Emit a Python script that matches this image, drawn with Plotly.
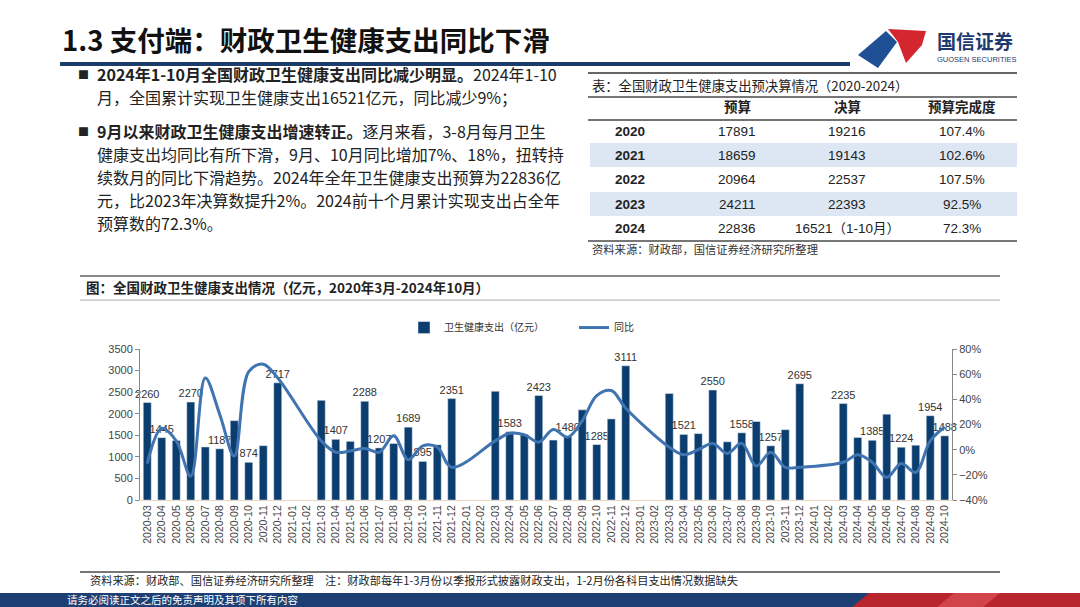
import plotly.graph_objects as go

W, H = 1080, 607
def X(p): return p / W
def Y(p): return 1 - (p * 1.02 - 5) / H

months = [
    "2020-03","2020-04","2020-05","2020-06","2020-07","2020-08","2020-09","2020-10","2020-11","2020-12",
    "2021-01","2021-02","2021-03","2021-04","2021-05","2021-06","2021-07","2021-08","2021-09","2021-10","2021-11","2021-12",
    "2022-01","2022-02","2022-03","2022-04","2022-05","2022-06","2022-07","2022-08","2022-09","2022-10","2022-11","2022-12",
    "2023-01","2023-02","2023-03","2023-04","2023-05","2023-06","2023-07","2023-08","2023-09","2023-10","2023-11","2023-12",
    "2024-01","2024-02","2024-03","2024-04","2024-05","2024-06","2024-07","2024-08","2024-09","2024-10",
]
spend = [
    2260, 1445, 1380, 2270, 1230, 1187, 1840, 874, 1260, 2717,
    None, None, 2310, 1407, 1360, 2288, 1207, 1310, 1689, 895, 1280, 2351,
    None, None, 2520, 1583, 1520, 2423, 1390, 1480, 2090, 1285, 1880, 3111,
    None, None, 2470, 1521, 1540, 2550, 1350, 1558, 1820, 1257, 1630, 2695,
    None, None, 2235, 1450, 1385, 1990, 1224, 1270, 1954, 1488,
]
yoy = [
    -11, 17, 7, -21, 57, 28, -5, 62, 68, 57,
    None, None, 7, -2, -1, 1, -2, 11, -8, 3, 2, -14,
    None, None, 7, 13, 12, 6, 16, 10, 23, 43, 47, 33,
    None, None, 2, -4, 0, 5, -3, 5, -13, -2, -14, -14,
    None, None, -10, -4, -10, -22, -11, -18, 7, 18,
]
labeled = ["2020-03","2020-04","2020-06","2020-08","2020-10","2020-12",
           "2021-04","2021-06","2021-07","2021-09","2021-10","2021-12",
           "2022-04","2022-06","2022-08","2022-10","2022-12",
           "2023-04","2023-06","2023-08","2023-10","2023-12",
           "2024-03","2024-05","2024-07","2024-09","2024-10"]

tbl_years = ["2020", "2021", "2022", "2023", "2024"]
tbl_budget = ["17891", "18659", "20964", "24211", "22836"]
tbl_final = ["19216", "19143", "22537", "22393", "16521（1-10月）"]
tbl_rate = ["107.4%", "102.6%", "107.5%", "92.5%", "72.3%"]
tbl_header = ["预算", "决算", "预算完成度"]

bullet_lines = [
    "<b>2024年1-10月全国财政卫生健康支出同比减少明显。</b>2024年1-10",
    "月，全国累计实现卫生健康支出16521亿元，同比减少9%；",
    "<b>9月以来财政卫生健康支出增速转正。</b>逐月来看，3-8月每月卫生",
    "健康支出均同比有所下滑，9月、10月同比增加7%、18%，扭转持",
    "续数月的同比下滑趋势。2024年全年卫生健康支出预算为22836亿",
    "元，比2023年决算数提升2%。2024前十个月累计实现支出占全年",
    "预算数的72.3%。",
]

CJK = "Noto Sans CJK SC"
NUM = "Liberation Sans, Noto Sans CJK SC"
NAVY = "#0b3d6e"
LINE = "#3f74b0"

bar_text = [str(v) if (m in labeled and v is not None) else "" for m, v in zip(months, spend)]

fig = go.Figure()
fig.add_trace(go.Bar(
    x=months, y=spend, name="卫生健康支出（亿元）", marker_color=NAVY,
    text=bar_text, textposition="outside", cliponaxis=False, constraintext="none",
    textfont=dict(size=11, color="#333", family=NUM), yaxis="y",
))
fig.add_trace(go.Scatter(
    x=months, y=yoy, name="同比", mode="lines", connectgaps=True,
    line=dict(color=LINE, width=3, shape="spline", smoothing=1.0), yaxis="y2",
))

ann = []
def A(text, x, y, size=12, color="#222", xanchor="left", family=CJK, yanchor="middle"):
    ann.append(dict(text=text, x=X(x), y=Y(y), xref="paper", yref="paper", showarrow=False,
                    xanchor=xanchor, yanchor=yanchor, font=dict(size=size, color=color, family=family)))

shapes = []
def R(x0, y0, x1, y1, color):
    shapes.append(dict(type="rect", xref="paper", yref="paper", x0=X(x0), x1=X(x1), y0=Y(y1), y1=Y(y0),
                       fillcolor=color, line=dict(width=0), layer="below"))
def L(x0, y0, x1, y1, color, w):
    shapes.append(dict(type="line", xref="paper", yref="paper", x0=X(x0), x1=X(x1), y0=Y(y0), y1=Y(y1),
                       line=dict(color=color, width=w)))
def P(pts, color):
    d = "M " + " L ".join(f"{X(a):.5f} {Y(b):.5f}" for a, b in pts) + " Z"
    shapes.append(dict(type="path", xref="paper", yref="paper", path=d, fillcolor=color, line=dict(width=0)))

# Title
A("<b>1.3 支付端：财政卫生健康支出同比下滑</b>", 60, 38, size=27.5, color="#111")
R(60, 61, 850, 65, "#1c3c6c")
# Logo
P([(858, 54), (886, 30), (897, 41), (878, 67)], "#1f4f94")
P([(888, 28), (926, 30), (922, 44), (906, 62), (898, 41)], "#d4262e")
A("<b>国信证券</b>", 935, 39, size=19, color="#1f3a6e")
A("GUOSEN SECURITIES", 935, 58, size=7.5, color="#1f3a6e", family="Liberation Sans")

# Bullets
ys = [73, 96, 130, 153, 176, 199, 222]
for t, yy in zip(bullet_lines, ys):
    A(t, 95, yy, size=16, color="#222")
A("■", 76, 73, size=11, color="#222")
A("■", 76, 130, size=11, color="#222")

# Table
R(590, 142, 1017, 166, "#dde6f3")
R(590, 191, 1017, 215, "#dde6f3")
L(588, 72, 1017, 72, "#666", 2)
L(588, 96, 1017, 96, "#777", 2)
L(588, 119, 1017, 119, "#444", 1.5)
L(588, 240, 1017, 240, "#777", 2)
A("表：全国财政卫生健康支出预决算情况（2020-2024）", 590, 84, size=13.3, color="#222")
for h, xx in zip(tbl_header, [737, 847, 962]):
    A("<b>" + h + "</b>", xx, 105, size=13.5, color="#222", xanchor="center")
rows_y = [130, 154, 178, 203, 227]
for yr, b, f, r, yy in zip(tbl_years, tbl_budget, tbl_final, tbl_rate, rows_y):
    A("<b>" + yr + "</b>", 630, yy, size=13.5, color="#222", xanchor="center", family=NUM)
    A(b, 737, yy, size=13.5, color="#222", xanchor="center", family=NUM)
    A(f, 847, yy, size=13.5, color="#222", xanchor="center", family=NUM)
    A(r, 962, yy, size=13.5, color="#222", xanchor="center", family=NUM)
A("资料来源：财政部，国信证券经济研究所整理", 590, 248, size=11.3, color="#333")

# Chart header
L(80, 275, 1000, 275, "#888", 2)
L(80, 299, 1000, 299, "#aaa", 1)
A("<b>图：全国财政卫生健康支出情况（亿元，2020年3月-2024年10月）</b>", 84, 286, size=13.5, color="#222")

# Bottom
L(80, 571, 1000, 571, "#777", 2)
A("资料来源：财政部、国信证券经济研究所整理　注：财政部每年1-3月份以季报形式披露财政支出，1-2月份各科目支出情况数据缺失",
  88, 578.5, size=11.2, color="#222")
R(0, 592, 1080, 612, "#1d3f73")
P([(845, 612), (869, 592), (1080, 592), (1080, 612)], "#b8252c")
P([(930, 612), (954, 592), (1000, 592), (976, 612)], "#d0444a")
A("请务必阅读正文之后的免责声明及其项下所有内容", 65, 598, size=10.5, color="#fff")

fig.update_layout(
    width=W, height=H, margin=dict(l=0, r=0, t=0, b=0),
    paper_bgcolor="white", plot_bgcolor="white",
    bargap=0.45, showlegend=True,
    legend=dict(orientation="h", x=X(404), y=Y(312), xanchor="left", yanchor="top",
                font=dict(size=10, color="#333", family=CJK), entrywidth=125, entrywidthmode="pixels",
                itemwidth=30, bgcolor="rgba(0,0,0,0)"),
    xaxis=dict(domain=[X(140), X(952)], type="category", tickangle=-90, tickfont=dict(size=10.5, color="#444", family=NUM),
               showgrid=False, showline=True, linecolor="#e8d8c0", ticks="", categoryorder="array", categoryarray=months),
    yaxis=dict(domain=[Y(499), Y(348)], range=[0, 3500], dtick=500, showgrid=False, showline=True,
               linecolor="#888", ticks="outside", ticklen=4, tickcolor="#888",
               tickfont=dict(size=11, color="#444", family=NUM), zeroline=False),
    yaxis2=dict(overlaying="y", side="right", range=[-40, 80], dtick=20, ticksuffix="%", showgrid=False,
                showline=True, linecolor="#888", ticks="outside", ticklen=4, tickcolor="#888",
                tickfont=dict(size=11, color="#444", family=NUM), zeroline=False, anchor="x"),
    annotations=ann, shapes=shapes,
)
fig.write_html("out.html", config={"displayModeBar": False},
               post_script="document.body.style.margin='0';document.body.style.overflow='hidden';")
